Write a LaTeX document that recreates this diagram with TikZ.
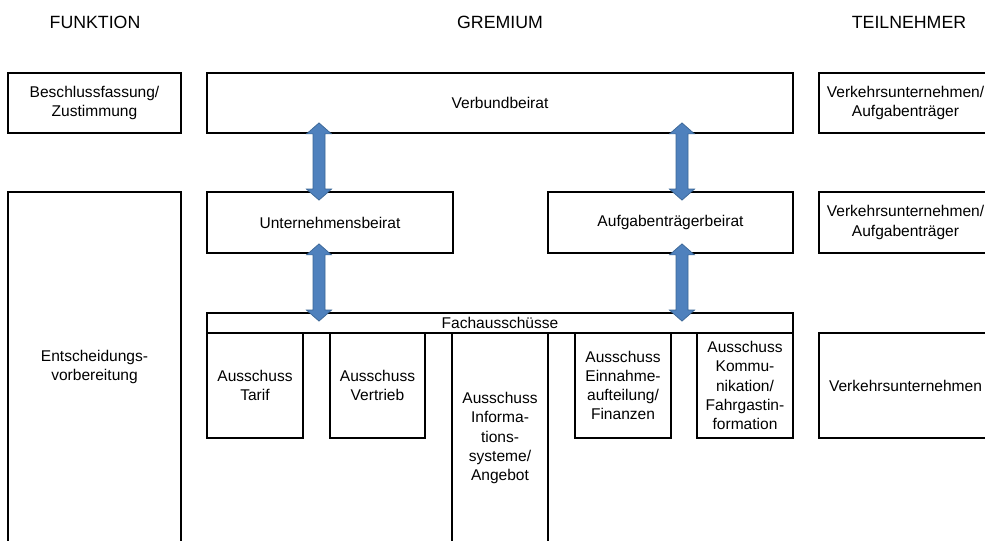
\documentclass[tikz,border=0pt]{standalone}
\usepackage{fontspec}
\setmainfont{Liberation Sans}
\usetikzlibrary{calc}
\definecolor{arrfill}{HTML}{4F81BD}
\definecolor{arrline}{HTML}{3A6696}
\tikzset{
  box/.style={draw=black, line width=1.8bp, fill=white, inner sep=0pt, align=center,
    font=\fontsize{15.6}{19.3}\selectfont},
  headtxt/.style={inner sep=0pt, font=\fontsize{17.8}{20}\selectfont},
  barrow/.style={fill=arrfill, draw=arrline, line width=0.7bp, line join=miter},
}
\newcommand\blockdarrow[2]{%
  \draw[barrow] (#1) -- ($(#1)+(12.5,11)$) -- ($(#1)+(6,11)$) -- ($(#2)+(6,-11)$)
    -- ($(#2)+(12.5,-11)$) -- (#2) -- ($(#2)+(-12.5,-11)$) -- ($(#2)+(-6,-11)$)
    -- ($(#1)+(-6,11)$) -- ($(#1)+(-12.5,11)$) -- cycle;}
\begin{document}
\begin{tikzpicture}[x=1bp, y=-1bp]
\useasboundingbox (0,0) rectangle (985,541);
\clip (0,0) rectangle (985,541);
% headers
\node[headtxt] (hfunk) at (95,22.5) {FUNKTION};
\node[headtxt] (hgrem) at (500,22.5) {GREMIUM};
\node[headtxt] (hteil) at (909,22.5) {TEILNEHMER};
% left column
\node[box, minimum width=173bp, minimum height=60bp] (besch) at (94.5,103) {Beschlussfassung/\\Zustimmung};
\node[box, minimum width=173bp, minimum height=350bp] (entsch) at (94.5,367) {Entscheidungs-\\vorbereitung};
% middle column
\node[box, minimum width=586bp, minimum height=60bp] (verbund) at (500,103) {Verbundbeirat};
\node[box, minimum width=246bp, minimum height=61bp] (unt) at (330,222.5) {Unternehmensbeirat};
\node[box, minimum width=245bp, minimum height=61bp] (aufg) at (670.5,222.5) {Aufgabenträgerbeirat};
\node[box, minimum width=586bp, minimum height=20bp] (fach) at (500,323) {Fachausschüsse};
\node[box, minimum width=96bp, minimum height=105bp] (tarif) at (255,385.5) {Ausschuss\\Tarif};
\node[box, minimum width=95bp, minimum height=105bp] (vertrieb) at (377.5,385.5) {Ausschuss\\Vertrieb};
\node[box, minimum width=96bp, minimum height=210bp] (info) at (500,438) {Ausschuss\\Informa-\\tions-\\systeme/\\Angebot};
\node[box, minimum width=96bp, minimum height=105bp] (einn) at (623,385.5) {Ausschuss\\Einnahme-\\aufteilung/\\Finanzen};
\node[box, minimum width=96bp, minimum height=105bp] (komm) at (745,385.5) {Ausschuss\\Kommu-\\nikation/\\Fahrgastin-\\formation};
% right column
\node[box, minimum width=173bp, minimum height=60bp] (verk1) at (905.5,103) {Verkehrsunternehmen/\\Aufgabenträger};
\node[box, minimum width=173bp, minimum height=61bp] (verk2) at (905.5,222.5) {Verkehrsunternehmen/\\Aufgabenträger};
\node[box, minimum width=173bp, minimum height=105bp] (verk3) at (905.5,385.5) {Verkehrsunternehmen};
% arrows
\coordinate (a1t) at ($(verbund.south -| unt.north)+(-11,-11)$);
\coordinate (a1b) at ($(unt.north)+(-11,9)$);
\coordinate (a2t) at ($(unt.south)+(-11,-10)$);
\coordinate (a2b) at ($(fach.north -| unt.south)+(-11,9)$);
\coordinate (a3t) at ($(verbund.south -| aufg.north)+(11.5,-11)$);
\coordinate (a3b) at ($(aufg.north)+(11.5,9)$);
\coordinate (a4t) at ($(aufg.south)+(11.5,-10)$);
\coordinate (a4b) at ($(fach.north -| aufg.south)+(11.5,9)$);
\blockdarrow{a1t}{a1b}
\blockdarrow{a2t}{a2b}
\blockdarrow{a3t}{a3b}
\blockdarrow{a4t}{a4b}
\end{tikzpicture}
\end{document}
